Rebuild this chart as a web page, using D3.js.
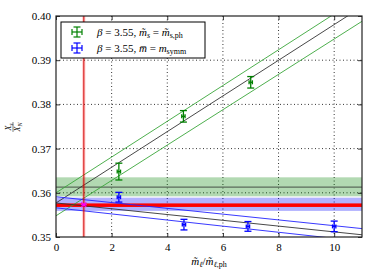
<!DOCTYPE html>
<html>
<head>
<meta charset="utf-8">
<script src="https://cdn.jsdelivr.net/npm/d3@7/dist/d3.min.js"></script>
<style>
  html, body { margin: 0; padding: 0; background: #fff; }
  svg { display: block; }
  text { font-family: "Liberation Serif", "DejaVu Serif", serif; fill: #000; }
</style>
</head>
<body>
<div id="chart"></div>
<script>
'use strict';

// tick values
const xTicks = [0, 2, 4, 6, 8, 10];
const yTicks = [0.35, 0.36, 0.37, 0.38, 0.39, 0.40];

// beta = 3.55, m_s = m_s,ph  (green)
const greenX   = [2.26, 4.58, 7.0];
const greenY   = [0.3648, 0.3773, 0.3850];
const greenErr = [0.0019, 0.0013, 0.0013];

// beta = 3.55, mbar = m_symm  (blue)
const blueX   = [2.26, 4.6, 6.9, 10.0];
const blueY   = [0.3590, 0.3528, 0.3524, 0.3524];
const blueErr = [0.0011, 0.0012, 0.0011, 0.0012];

const xErr = 0.06;

// fit lines, value at x = 0 and x = 11
const fitX          = [0, 11];
const greenFitMid   = [0.3577, 0.4021];
const greenFitHigh  = [0.3600, 0.4045];
const greenFitLow   = [0.3548, 0.3988];
const blueFitMid    = [0.3577, 0.3505];
const blueFitHigh   = [0.3591, 0.3519];
const blueFitLow    = [0.3566, 0.3490];

// horizontal bands [low, centre, high]
const greenBand = [0.3592, 0.3613, 0.3635];
const blueBand  = [0.3559, 0.3574, 0.3589];
const redBand   = [0.3568, 0.3572, 0.3576];

// physical point
const physX = 1;
const physY = 0.3573;
const physErr = 0.0004;

const W = 374, H = 280;

const svg = d3.select('#chart').append('svg')
  .attr('width', W)
  .attr('height', H);

const x = d3.scaleLinear().domain([0, 11]).range([56, 362]);
const y = d3.scaleLinear().domain([0.35, 0.40]).range([237, 16]);

svg.append('defs').append('clipPath').attr('id', 'plot')
  .append('rect')
  .attr('x', x(0)).attr('y', y(0.40))
  .attr('width', x(11) - x(0)).attr('height', y(0.35) - y(0.40));

const plot = svg.append('g').attr('clip-path', 'url(#plot)');

// grid
plot.selectAll('.gx').data(xTicks.filter(function(d){ return d > 0; }))
  .enter().append('line')
  .attr('x1', function(d){ return x(d); }).attr('x2', function(d){ return x(d); })
  .attr('y1', y(0.40)).attr('y2', y(0.35))
  .attr('stroke', '#000').attr('stroke-width', 0.8).attr('stroke-dasharray', '1,2.5');
plot.selectAll('.gy').data(yTicks.filter(function(d){ return d > 0.35 && d < 0.40; }))
  .enter().append('line')
  .attr('x1', x(0)).attr('x2', x(11))
  .attr('y1', function(d){ return y(d); }).attr('y2', function(d){ return y(d); })
  .attr('stroke', '#000').attr('stroke-width', 0.8).attr('stroke-dasharray', '1,2.5');

// bands
function band(b, fill){
  plot.append('rect')
    .attr('x', x(0)).attr('width', x(11) - x(0))
    .attr('y', y(b[2])).attr('height', y(b[0]) - y(b[2]))
    .attr('fill', fill);
}
band(greenBand, 'rgba(0,128,0,0.3)');
plot.append('line')
  .attr('x1', x(0)).attr('x2', x(11))
  .attr('y1', y(greenBand[1])).attr('y2', y(greenBand[1]))
  .attr('stroke', '#5a6a5a').attr('stroke-width', 1.2);
band(blueBand, 'rgba(0,0,255,0.3)');
band(redBand, '#ff0000');

// fit lines
function fit(vals, color, w){
  plot.append('line')
    .attr('x1', x(fitX[0])).attr('y1', y(vals[0]))
    .attr('x2', x(fitX[1])).attr('y2', y(vals[1]))
    .attr('stroke', color).attr('stroke-width', w);
}
fit(greenFitHigh, '#3aa63a', 0.9);
fit(greenFitLow, '#3aa63a', 0.9);
fit(greenFitMid, '#333', 0.9);
fit(blueFitHigh, '#2222ff', 0.9);
fit(blueFitLow, '#2222ff', 0.9);
fit(blueFitMid, '#333', 0.9);

// vertical line at physical point
plot.append('rect')
  .attr('x', x(physX) - 1.5).attr('width', 3)
  .attr('y', y(0.40)).attr('height', y(0.35) - y(0.40))
  .attr('fill', 'rgba(255,0,0,0.25)');
plot.append('line')
  .attr('x1', x(physX)).attr('x2', x(physX))
  .attr('y1', y(0.40)).attr('y2', y(0.35))
  .attr('stroke', '#d00000').attr('stroke-width', 0.9);

// error bars
function errorbars(xs, ys, es, color){
  const g = plot.append('g').attr('stroke', color).attr('stroke-width', 1.3).attr('fill', 'none');
  xs.forEach(function(xv, i){
    const cx = x(xv), top = y(ys[i] + es[i]), bot = y(ys[i] - es[i]);
    g.append('line').attr('x1', cx).attr('x2', cx).attr('y1', top).attr('y2', bot);
    g.append('line').attr('x1', cx - 3.5).attr('x2', cx + 3.5).attr('y1', top).attr('y2', top);
    g.append('line').attr('x1', cx - 3.5).attr('x2', cx + 3.5).attr('y1', bot).attr('y2', bot);
    const l = x(xv - xErr), r = x(xv + xErr), cy = y(ys[i]);
    g.append('line').attr('x1', l).attr('x2', r).attr('y1', cy).attr('y2', cy);
    g.append('line').attr('x1', l).attr('x2', l).attr('y1', cy - 2).attr('y2', cy + 2);
    g.append('line').attr('x1', r).attr('x2', r).attr('y1', cy - 2).attr('y2', cy + 2);
  });
}
errorbars(greenX, greenY, greenErr, '#008000');
errorbars(blueX, blueY, blueErr, '#0000ff');

// physical point marker
(function(){
  const cx = x(physX), cy = y(physY);
  const g = plot.append('g').attr('stroke', '#ff00ff').attr('stroke-width', 1.1);
  g.append('line').attr('x1', cx).attr('x2', cx).attr('y1', y(physY + physErr)).attr('y2', y(physY - physErr));
  g.append('line').attr('x1', cx - 3).attr('x2', cx + 3).attr('y1', cy).attr('y2', cy);
  g.append('line').attr('x1', cx - 2.5).attr('x2', cx + 2.5).attr('y1', cy - 2.5).attr('y2', cy + 2.5);
  g.append('line').attr('x1', cx - 2.5).attr('x2', cx + 2.5).attr('y1', cy + 2.5).attr('y2', cy - 2.5);
})();

// axes with inward ticks on all four sides
const fmtY = d3.format('.2f');
const axB = svg.append('g').attr('transform', 'translate(0,' + y(0.35) + ')')
  .call(d3.axisBottom(x).tickValues(xTicks).tickSize(-4).tickPadding(6));
const axT = svg.append('g').attr('transform', 'translate(0,' + y(0.40) + ')')
  .call(d3.axisTop(x).tickValues(xTicks).tickSize(-4).tickFormat(''));
const axL = svg.append('g').attr('transform', 'translate(' + x(0) + ',0)')
  .call(d3.axisLeft(y).tickValues(yTicks).tickSize(-4).tickPadding(5).tickFormat(fmtY));
const axR = svg.append('g').attr('transform', 'translate(' + x(11) + ',0)')
  .call(d3.axisRight(y).tickValues(yTicks).tickSize(-4).tickFormat(''));
[axB, axT, axL, axR].forEach(function(a){
  a.attr('font-family', null);
  a.select('.domain').remove();
  a.selectAll('line').attr('stroke', '#000').attr('stroke-width', 0.8);
  a.selectAll('text').style('font-family', '"Liberation Serif", serif').style('font-size', '11px').attr('fill', '#000');
});

svg.append('rect')
  .attr('x', x(0)).attr('y', y(0.40))
  .attr('width', x(11) - x(0)).attr('height', y(0.35) - y(0.40))
  .attr('fill', 'none').attr('stroke', '#222').attr('stroke-width', 1.2);

// x label
const xl = svg.append('text').attr('x', 209).attr('y', 265).attr('text-anchor', 'middle').style('font-size', '11px');
xl.append('tspan').style('font-style', 'italic').text('m\u0303');
xl.append('tspan').style('font-style', 'italic').style('font-size', '8px').attr('dy', 2).text('\u2113');
xl.append('tspan').attr('dy', -2).text('/');
xl.append('tspan').style('font-style', 'italic').text('m\u0303');
xl.append('tspan').style('font-style', 'italic').style('font-size', '8px').attr('dy', 2).text('\u2113');
xl.append('tspan').style('font-size', '8px').text(',ph');

// y label: X_s / X_N, rotated
const yl = svg.append('g').attr('transform', 'translate(13,127) rotate(-90)');
const num = yl.append('text').attr('x', 0).attr('y', -2).attr('text-anchor', 'middle').style('font-size', '8px');
num.append('tspan').style('font-style', 'italic').text('X');
num.append('tspan').style('font-style', 'italic').style('font-size', '6px').attr('dy', 1.5).text('s');
yl.append('line').attr('x1', -5).attr('x2', 5).attr('y1', 0).attr('y2', 0).attr('stroke', '#000').attr('stroke-width', 0.5);
const den = yl.append('text').attr('x', 0).attr('y', 7).attr('text-anchor', 'middle').style('font-size', '8px');
den.append('tspan').style('font-style', 'italic').text('X');
den.append('tspan').style('font-style', 'italic').style('font-size', '6px').attr('dy', 1.5).text('N');

// legend
const lg = svg.append('g');
lg.append('rect').attr('x', 61).attr('y', 22).attr('width', 144).attr('height', 36)
  .attr('fill', '#fff').attr('stroke', '#000').attr('stroke-width', 1);

function legendMark(cy, color){
  const g = lg.append('g').attr('stroke', color).attr('stroke-width', 1.2);
  const cx = 77;
  g.append('line').attr('x1', cx).attr('x2', cx).attr('y1', cy - 5).attr('y2', cy + 5);
  g.append('line').attr('x1', cx - 3.5).attr('x2', cx + 3.5).attr('y1', cy - 5).attr('y2', cy - 5);
  g.append('line').attr('x1', cx - 3.5).attr('x2', cx + 3.5).attr('y1', cy + 5).attr('y2', cy + 5);
  g.append('line').attr('x1', cx - 5).attr('x2', cx + 5).attr('y1', cy).attr('y2', cy);
  g.append('line').attr('x1', cx - 5).attr('x2', cx - 5).attr('y1', cy - 3).attr('y2', cy + 3);
  g.append('line').attr('x1', cx + 5).attr('x2', cx + 5).attr('y1', cy - 3).attr('y2', cy + 3);
}
legendMark(32, '#008000');
legendMark(48, '#0000ff');

const t1 = lg.append('text').attr('x', 97).attr('y', 35.5).style('font-size', '11px');
t1.append('tspan').style('font-style', 'italic').text('\u03b2');
t1.append('tspan').text(' = 3.55, ');
t1.append('tspan').style('font-style', 'italic').text('m\u0303');
t1.append('tspan').style('font-style', 'italic').style('font-size', '8px').attr('dy', 2).text('s');
t1.append('tspan').attr('dy', -2).text(' = ');
t1.append('tspan').style('font-style', 'italic').text('m\u0303');
t1.append('tspan').style('font-size', '8px').attr('dy', 2).text('s,ph');

const t2 = lg.append('text').attr('x', 97).attr('y', 51.5).style('font-size', '11px');
t2.append('tspan').style('font-style', 'italic').text('\u03b2');
t2.append('tspan').text(' = 3.55, ');
t2.append('tspan').style('font-style', 'italic').text('m\u0305');
t2.append('tspan').text(' = ');
t2.append('tspan').style('font-style', 'italic').text('m');
t2.append('tspan').style('font-size', '8px').attr('dy', 2).text('symm');
</script>
</body>
</html>
